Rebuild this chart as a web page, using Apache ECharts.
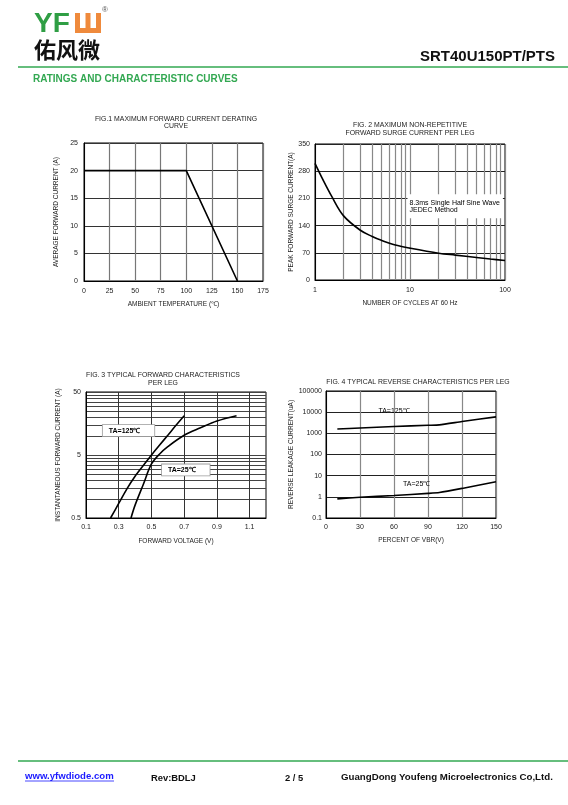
<!DOCTYPE html>
<html>
<head>
<meta charset="utf-8">
<script src="https://cdn.jsdelivr.net/npm/echarts@6/dist/echarts.min.js"></script>
<style>
  html, body { margin: 0; padding: 0; background: #fff; }
  #main { width: 568px; height: 805px; }
</style>
</head>
<body>
<div id="main"></div>
<script>
// fig.1 derating curve
const fig1Temp = [0, 100, 150];
const fig1Current = [20, 20, 0];

// fig.2 surge current
const fig2Cycles = [1, 1.2, 1.5, 2, 3, 4, 5, 7, 10, 20, 30, 50, 70, 100];
const fig2Surge = [300, 260, 215, 165, 128, 112, 102, 90, 82, 69, 64, 58, 54, 50];
const fig2CycleGrid = [1, 2, 3, 4, 5, 6, 7, 8, 9, 10, 20, 30, 40, 50, 60, 70, 80, 90, 100];
const fig2CycleLabels = [1, 10, 100];

// fig.3 forward characteristics
const fig3Volt125 = [0.25, 0.3, 0.35, 0.4, 0.45, 0.5, 0.55, 0.6, 0.65, 0.7];
const fig3Amp125 = [0.5, 0.85, 1.45, 2.3, 3.4, 5, 7.2, 10.3, 14.8, 21];
const fig3Volt25 = [0.375, 0.4, 0.45, 0.5, 0.55, 0.6, 0.7, 0.8, 0.9, 1.02];
const fig3Amp25 = [0.5, 0.8, 1.7, 3.6, 5.2, 6.8, 10.3, 13.5, 17.3, 21];
const fig3VoltTicks = [0.1, 0.3, 0.5, 0.7, 0.9, 1.1];
const fig3AmpGrid = [0.5, 1, 1.5, 2, 2.5, 3, 3.5, 4, 4.5, 5, 10, 15, 20, 25, 30, 35, 40, 45, 50];
const fig3AmpLabels = [0.5, 5, 50];

// fig.4 reverse characteristics
const fig4Pct = [10, 30, 60, 90, 100, 120, 150];
const fig4Leak125 = [1600, 1800, 2100, 2400, 2500, 3600, 6000];
const fig4Leak25 = [0.8, 0.95, 1.15, 1.45, 1.6, 2.5, 5.2];
const fig4LeakTicks = [0.1, 1, 10, 100, 1000, 10000, 100000];

const FONT = 'Liberation Sans, Arial, sans-serif';
const GREEN = '#33a852';
const LOGO_GREEN = '#2f9e44';
const LOGO_ORANGE = '#ef8a3c';

function pairs(xs, ys) {
  return xs.map((x, i) => [x, ys[i]]);
}
function numLabel(v) {
  return String(+(+v).toPrecision(6));
}

const labelStyle = { fontFamily: FONT, fontSize: 7, color: '#222' };
const nameStyle = { fontFamily: FONT, fontSize: 6.5, color: '#222' };
const blackLine = { lineStyle: { color: '#000', width: 1 } };

function lineSeries(xi, data, smooth) {
  return {
    type: 'line',
    xAxisIndex: xi,
    yAxisIndex: xi,
    data: data,
    smooth: smooth,
    showSymbol: false,
    symbol: 'none',
    lineStyle: { color: '#000', width: 1.6 },
    silent: true
  };
}

function boxLabel(coord, text, opts) {
  return Object.assign({
    coord: coord,
    symbol: 'rect',
    symbolSize: 1,
    itemStyle: { color: 'rgba(0,0,0,0)' },
    label: {
      show: true,
      formatter: text,
      position: 'inside',
      fontFamily: FONT,
      fontSize: 7,
      fontWeight: 'bold',
      color: '#000',
      backgroundColor: '#fff',
      borderColor: '#999',
      borderWidth: 0.8,
      padding: [2, 14, 2, 6]
    }
  }, opts || {});
}

function txt(x, y, text, style) {
  return {
    type: 'text',
    x: x,
    y: y,
    style: Object.assign({
      text: text,
      fontFamily: FONT,
      fontSize: 7,
      fill: '#222',
      textAlign: 'center',
      textVerticalAlign: 'middle'
    }, style || {})
  };
}

const chart = echarts.init(document.getElementById('main'), null, { renderer: 'canvas' });

const option = {
  animation: false,
  backgroundColor: '#fff',
  grid: [
    { left: 84, top: 143, width: 179, height: 138, show: true, borderColor: '#000', borderWidth: 1 },
    { left: 315, top: 144, width: 190, height: 136, show: true, borderColor: '#000', borderWidth: 1 },
    { left: 86, top: 392, width: 180, height: 126, show: true, borderColor: '#000', borderWidth: 1 },
    { left: 326, top: 391, width: 170, height: 127, show: true, borderColor: '#000', borderWidth: 1 }
  ],
  xAxis: [
    {
      gridIndex: 0, type: 'value', min: 0, max: 175, interval: 25,
      name: 'AMBIENT TEMPERATURE (\u2103)', nameLocation: 'middle', nameGap: 20, nameTextStyle: nameStyle,
      axisLine: blackLine, axisTick: { show: false },
      axisLabel: Object.assign({ margin: 7 }, labelStyle),
      splitLine: { show: true, lineStyle: { color: '#777', width: 1.2 } }
    },
    {
      gridIndex: 1, type: 'log', logBase: 10, min: 1, max: 100,
      name: 'NUMBER OF CYCLES AT 60 Hz', nameLocation: 'middle', nameGap: 20, nameTextStyle: nameStyle,
      axisLine: blackLine,
      axisTick: { show: false, customValues: fig2CycleGrid },
      axisLabel: Object.assign({ margin: 7, customValues: fig2CycleLabels, formatter: numLabel }, labelStyle),
      splitLine: { show: true, lineStyle: { color: '#888', width: 1.2 } }
    },
    {
      gridIndex: 2, type: 'value', min: 0.1, max: 1.2,
      name: 'FORWARD VOLTAGE (V)', nameLocation: 'middle', nameGap: 20, nameTextStyle: nameStyle,
      axisLine: blackLine,
      axisTick: { show: false, customValues: fig3VoltTicks },
      axisLabel: Object.assign({ margin: 6, customValues: fig3VoltTicks, formatter: numLabel }, labelStyle),
      splitLine: { show: true, lineStyle: { color: '#333', width: 1 } }
    },
    {
      gridIndex: 3, type: 'value', min: 0, max: 150, interval: 30,
      name: 'PERCENT OF VBR(V)', nameLocation: 'middle', nameGap: 19, nameTextStyle: nameStyle,
      axisLine: blackLine, axisTick: { show: false },
      axisLabel: Object.assign({ margin: 6 }, labelStyle),
      splitLine: { show: true, lineStyle: { color: '#888', width: 1.2 } }
    }
  ],
  yAxis: [
    {
      gridIndex: 0, type: 'value', min: 0, max: 25, interval: 5,
      name: 'AVERAGE FORWARD CURRENT (A)', nameLocation: 'middle', nameGap: 24, nameTextStyle: nameStyle,
      axisLine: blackLine, axisTick: { show: false },
      axisLabel: Object.assign({ margin: 6 }, labelStyle),
      splitLine: { show: true, lineStyle: { color: '#333', width: 1 } }
    },
    {
      gridIndex: 1, type: 'value', min: 0, max: 350, interval: 70,
      name: 'PEAK FORWARD SURGE CURRENT(A)', nameLocation: 'middle', nameGap: 20, nameTextStyle: nameStyle,
      axisLine: blackLine, axisTick: { show: false },
      axisLabel: Object.assign({ margin: 5 }, labelStyle),
      splitLine: { show: true, lineStyle: { color: '#222', width: 1 } }
    },
    {
      gridIndex: 2, type: 'log', logBase: 10, min: 0.5, max: 50,
      name: 'INSTANTANEOUS FORWARD CURRENT (A)', nameLocation: 'middle', nameGap: 24, nameTextStyle: nameStyle,
      axisLine: blackLine,
      axisTick: { show: false, customValues: fig3AmpGrid },
      axisLabel: Object.assign({ margin: 5, customValues: fig3AmpLabels, formatter: numLabel }, labelStyle),
      splitLine: { show: true, lineStyle: { color: '#444', width: 1 } }
    },
    {
      gridIndex: 3, type: 'log', logBase: 10, min: 0.1, max: 100000,
      name: 'REVERSE LEAKAGE CURRENT(uA)', nameLocation: 'middle', nameGap: 28, nameTextStyle: nameStyle,
      axisLine: blackLine,
      axisTick: { show: false, customValues: fig4LeakTicks },
      axisLabel: Object.assign({ margin: 4, customValues: fig4LeakTicks, formatter: numLabel }, labelStyle),
      splitLine: { show: true, lineStyle: { color: '#222', width: 1 } }
    }
  ],
  series: [
    lineSeries(0, pairs(fig1Temp, fig1Current), false),
    Object.assign(lineSeries(1, pairs(fig2Cycles, fig2Surge), 0.35), {
      markPoint: {
        silent: true,
        data: [boxLabel([9.3, 190], '8.3ms Single Half Sine Wave\nJEDEC Method', {
          label: {
            show: true, position: 'right', distance: 0,
            formatter: '8.3ms Single Half Sine Wave\nJEDEC Method',
            fontFamily: FONT, fontSize: 7, lineHeight: 7, color: '#000',
            backgroundColor: '#fff', padding: [4, 3, 6, 2]
          }
        })]
      }
    }),
    Object.assign(lineSeries(2, pairs(fig3Volt125, fig3Amp125), 0.3), {
      markPoint: { silent: true, data: [boxLabel([0.36, 12.2], 'TA=125\u2103')] }
    }),
    Object.assign(lineSeries(2, pairs(fig3Volt25, fig3Amp25), 0.35), {
      markPoint: { silent: true, data: [boxLabel([0.71, 2.9], 'TA=25\u2103')] }
    }),
    Object.assign(lineSeries(3, pairs(fig4Pct, fig4Leak125), 0.2), {
      markPoint: {
        silent: true,
        data: [boxLabel([60, 11500], 'TA=125\u2103', {
          label: { show: true, formatter: 'TA=125\u2103', fontFamily: FONT, fontSize: 7, color: '#000' }
        })]
      }
    }),
    Object.assign(lineSeries(3, pairs(fig4Pct, fig4Leak25), 0.2), {
      markPoint: {
        silent: true,
        data: [boxLabel([80, 4], 'TA=25\u2103', {
          label: { show: true, formatter: 'TA=25\u2103', fontFamily: FONT, fontSize: 7, color: '#000' }
        })]
      }
    })
  ],
  graphic: [
    // logo
    txt(34, 24, 'YF', { textAlign: 'left', fontSize: 28, fontWeight: 'bold', fill: LOGO_GREEN }),
    { type: 'rect', shape: { x: 75, y: 13, width: 26, height: 20 }, style: { fill: LOGO_ORANGE } },
    { type: 'rect', shape: { x: 80, y: 13, width: 5.5, height: 15 }, style: { fill: '#fff' } },
    { type: 'rect', shape: { x: 90.5, y: 13, width: 5.5, height: 15 }, style: { fill: '#fff' } },
    txt(105, 10, '\u00ae', { fontSize: 8, fill: '#555' }),
    txt(34, 50, '\u4f51\u98ce\u5fae', { textAlign: 'left', fontSize: 22, fontWeight: 'bold', fill: '#111', fontFamily: 'Noto Sans CJK SC, sans-serif' }),
    txt(555, 57, 'SRT40U150PT/PTS', { textAlign: 'right', fontSize: 15, fontWeight: 'bold', fill: '#111' }),
    { type: 'line', shape: { x1: 18, y1: 67, x2: 568, y2: 67 }, style: { stroke: GREEN, lineWidth: 1.5 } },
    txt(33, 79, 'RATINGS AND CHARACTERISTIC CURVES', { textAlign: 'left', fontSize: 10, fontWeight: 'bold', fill: GREEN }),

    // chart titles
    txt(176, 119, 'FIG.1 MAXIMUM FORWARD CURRENT DERATING', { fontSize: 6.9 }),
    txt(176, 126, 'CURVE', { fontSize: 6.9 }),
    txt(410, 125, 'FIG. 2 MAXIMUM NON-REPETITIVE', { fontSize: 6.9 }),
    txt(410, 133, 'FORWARD SURGE CURRENT PER LEG', { fontSize: 6.9 }),
    txt(163, 375, 'FIG. 3 TYPICAL FORWARD CHARACTERISTICS', { fontSize: 6.9 }),
    txt(163, 383, 'PER LEG', { fontSize: 6.9 }),
    txt(418, 382, 'FIG. 4 TYPICAL REVERSE CHARACTERISTICS PER LEG', { fontSize: 6.9 }),

    // footer
    { type: 'line', shape: { x1: 18, y1: 761, x2: 568, y2: 761 }, style: { stroke: GREEN, lineWidth: 1.5 } },
    txt(25, 776, 'www.yfwdiode.com', { textAlign: 'left', fontSize: 9.6, fontWeight: 'bold', fill: '#1a1aff' }),
    { type: 'line', shape: { x1: 25, y1: 781, x2: 114, y2: 781 }, style: { stroke: '#1a1aff', lineWidth: 0.8 } },
    txt(151, 778, 'Rev:BDLJ', { textAlign: 'left', fontSize: 9.4, fontWeight: 'bold', fill: '#111' }),
    txt(285, 778, '2 / 5', { textAlign: 'left', fontSize: 9.4, fontWeight: 'bold', fill: '#111' }),
    txt(341, 777, 'GuangDong Youfeng Microelectronics Co,Ltd.', { textAlign: 'left', fontSize: 9.7, fontWeight: 'bold', fill: '#111' })
  ]
};

chart.setOption(option);
</script>
</body>
</html>
